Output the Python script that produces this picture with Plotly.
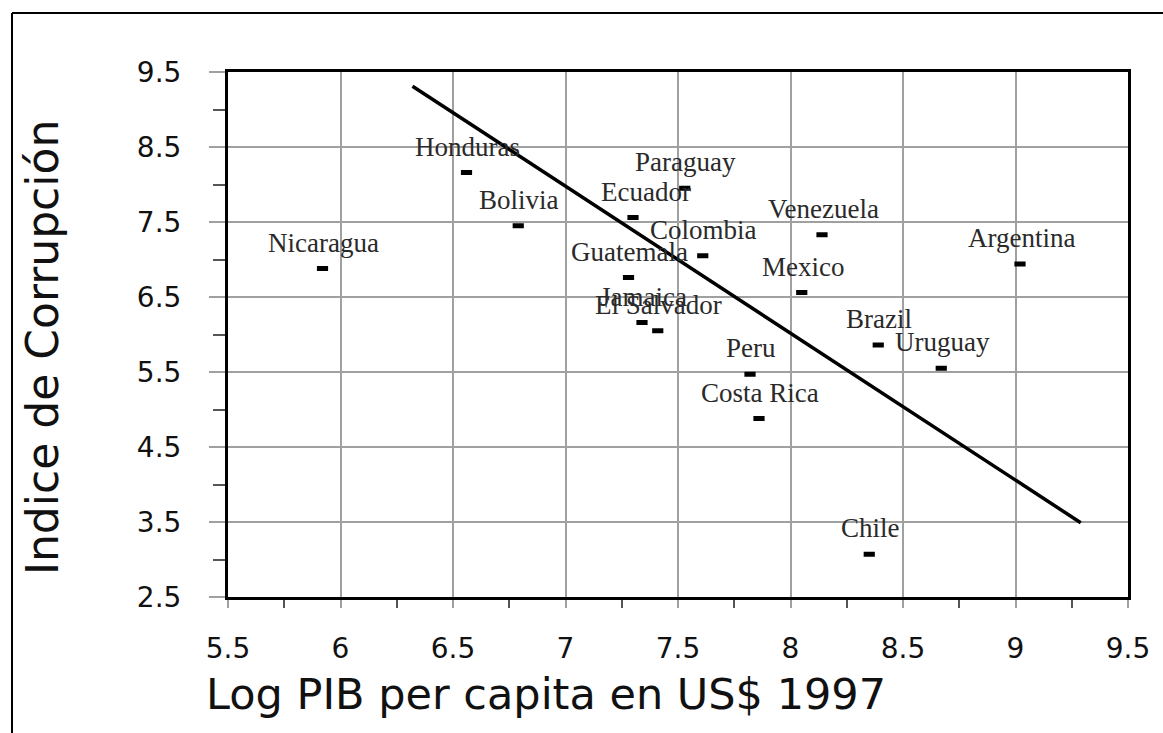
import plotly.graph_objects as go

# ---- data ----
countries = ["Nicaragua", "Honduras", "Bolivia", "Paraguay", "Ecuador", "Colombia",
             "Venezuela", "Guatemala", "Mexico", "Argentina", "Jamaica", "El Salvador",
             "Brazil", "Uruguay", "Peru", "Costa Rica", "Chile"]
log_gdp = [5.92, 6.56, 6.79, 7.53, 7.30, 7.61, 8.14, 7.28, 8.05, 9.02, 7.34, 7.41,
           8.39, 8.67, 7.82, 7.86, 8.35]
corruption = [6.88, 8.16, 7.45, 7.95, 7.56, 7.05, 7.33, 6.76, 6.56, 6.94, 6.16, 6.05,
              5.86, 5.55, 5.47, 4.88, 3.07]
fit_x = [6.32, 9.29]
fit_y = [9.31, 3.49]

x_ticks = [5.5, 6, 6.5, 7, 7.5, 8, 8.5, 9, 9.5]
x_tick_labels = ["5.5", "6", "6.5", "7", "7.5", "8", "8.5", "9", "9.5"]
y_ticks = [2.5, 3.5, 4.5, 5.5, 6.5, 7.5, 8.5, 9.5]
y_tick_labels = ["2.5", "3.5", "4.5", "5.5", "6.5", "7.5", "8.5", "9.5"]

x_title = "Log PIB per capita en US$ 1997"
y_title = "Indice de Corrupción"

# label pixel offsets (style only)
label_xshift = {"Ecuador": 13}
label_yshift = 26

# ---- layout geometry (pixels) ----
W, H = 1163, 733
L, R, T, B = 228, 35, 72, 136
PW = W - L - R
PH = H - T - B

def px_to_paper_x(px):
    return (px - L) / PW

def px_to_paper_y(py):
    return (H - B - py) / PH

fig = go.Figure()

fig.add_trace(go.Scatter(
    x=fit_x, y=fit_y, mode="lines",
    line=dict(color="black", width=3.5),
    hoverinfo="skip", showlegend=False,
))

fig.add_trace(go.Scatter(
    x=log_gdp, y=corruption, mode="markers",
    marker=dict(symbol="line-ew", size=8, color="black",
                line=dict(color="black", width=5)),
    text=countries, showlegend=False,
))

annotations = []
for name, xv, yv in zip(countries, log_gdp, corruption):
    annotations.append(dict(
        x=xv, y=yv, xref="x", yref="y", text=name, showarrow=False,
        xshift=label_xshift.get(name, 1), yshift=label_yshift,
        font=dict(family="Liberation Serif", size=27, color="#2a2a2a"),
    ))

annotations.append(dict(
    x=px_to_paper_x(546), y=px_to_paper_y(694), xref="paper", yref="paper",
    text=x_title, showarrow=False, xanchor="center", yanchor="middle",
    font=dict(family="DejaVu Sans", size=43, color="#111111"),
))
annotations.append(dict(
    x=px_to_paper_x(42), y=px_to_paper_y(348), xref="paper", yref="paper",
    text=y_title, showarrow=False, xanchor="center", yanchor="middle", textangle=-90,
    font=dict(family="DejaVu Sans", size=44, color="#111111"),
))

shapes = [
    dict(type="line", xref="paper", yref="paper",
         x0=px_to_paper_x(12), x1=px_to_paper_x(1163),
         y0=px_to_paper_y(13), y1=px_to_paper_y(13),
         line=dict(color="black", width=2)),
    dict(type="line", xref="paper", yref="paper",
         x0=px_to_paper_x(12), x1=px_to_paper_x(12),
         y0=px_to_paper_y(13), y1=px_to_paper_y(733),
         line=dict(color="black", width=2)),
]

fig.update_layout(
    width=W, height=H,
    margin=dict(l=L, r=R, t=T, b=B),
    paper_bgcolor="white", plot_bgcolor="white",
    annotations=annotations, shapes=shapes,
    showlegend=False,
)

fig.update_xaxes(
    range=[5.5, 9.5], tickmode="array", tickvals=x_ticks, ticktext=x_tick_labels,
    showgrid=True, gridcolor="#a0a0a0", gridwidth=2,
    showline=True, linecolor="black", linewidth=3, mirror=True,
    ticks="outside", ticklen=8, tickcolor="#a0a0a0", tickwidth=2,
    ticklabelstandoff=16,
    minor=dict(tickvals=[5.75, 6.25, 6.75, 7.25, 7.75, 8.25, 8.75, 9.25],
               ticks="outside", ticklen=8, tickcolor="#555555", tickwidth=2,
               showgrid=False),
    tickfont=dict(family="DejaVu Sans", size=28, color="#111111"),
    zeroline=False,
)
fig.update_yaxes(
    range=[2.5, 9.5], tickmode="array", tickvals=y_ticks, ticktext=y_tick_labels,
    showgrid=True, gridcolor="#a0a0a0", gridwidth=2,
    showline=True, linecolor="black", linewidth=3, mirror=True,
    ticks="outside", ticklen=16, tickcolor="#a0a0a0", tickwidth=2,
    ticklabelstandoff=22,
    minor=dict(tickvals=[3, 4, 5, 6, 7, 8, 9],
               ticks="outside", ticklen=12, tickcolor="#555555", tickwidth=2,
               showgrid=False),
    tickfont=dict(family="DejaVu Sans", size=28, color="#111111"),
    zeroline=False,
)

fig.write_html("out.html",
               config={"displayModeBar": False},
               post_script="document.body.style.margin='0px';"
                           "document.body.style.overflow='hidden';")
